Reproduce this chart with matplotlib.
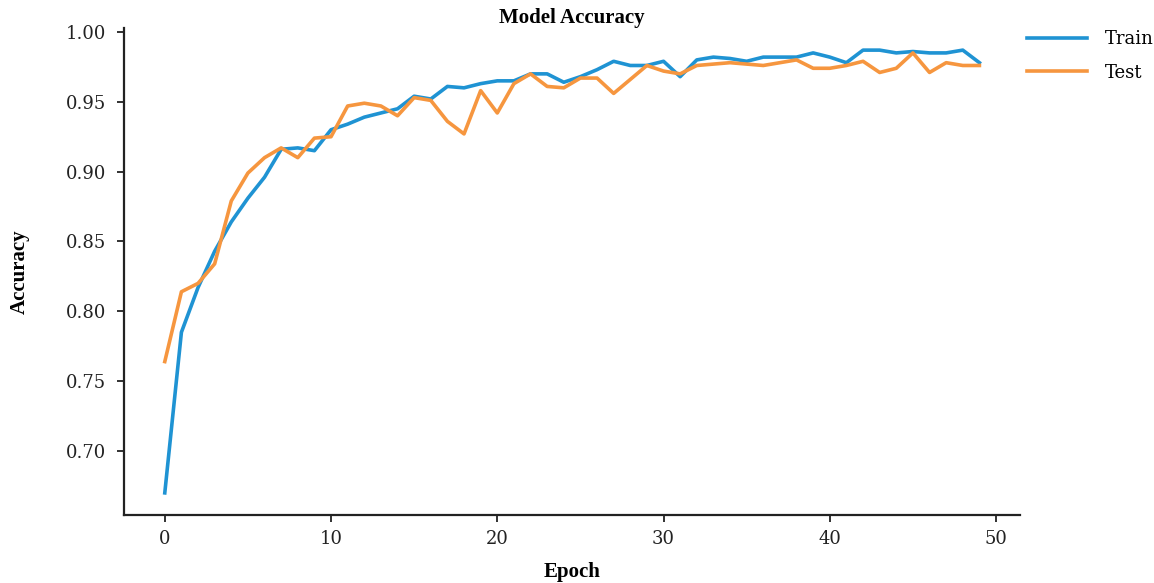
import matplotlib
matplotlib.use("Agg")
import matplotlib.pyplot as plt
import numpy as np

epochs = list(range(50))
train_acc = [0.670, 0.785, 0.817, 0.843, 0.864, 0.881, 0.896, 0.916, 0.917, 0.915,
             0.930, 0.934, 0.939, 0.942, 0.945, 0.954, 0.952, 0.961, 0.960, 0.963,
             0.965, 0.965, 0.970, 0.970, 0.964, 0.968, 0.973, 0.979, 0.976, 0.976,
             0.979, 0.968, 0.980, 0.982, 0.981, 0.979, 0.982, 0.982, 0.982, 0.985,
             0.982, 0.978, 0.987, 0.987, 0.985, 0.986, 0.985, 0.985, 0.987, 0.978]
test_acc = [0.764, 0.814, 0.820, 0.834, 0.879, 0.899, 0.910, 0.917, 0.910, 0.924,
            0.925, 0.947, 0.949, 0.947, 0.940, 0.953, 0.951, 0.936, 0.927, 0.958,
            0.942, 0.963, 0.970, 0.961, 0.960, 0.967, 0.967, 0.956, 0.966, 0.976,
            0.972, 0.970, 0.976, 0.977, 0.978, 0.977, 0.976, 0.978, 0.980, 0.974,
            0.974, 0.976, 0.979, 0.971, 0.974, 0.985, 0.971, 0.978, 0.976, 0.976]

fig = plt.figure(figsize=(11.54, 5.83), dpi=100)
ax = fig.add_axes([0.1075, 0.1166, 0.7765, 0.8354])

ax.plot(epochs, train_acc, color="#1f93d3", lw=2.6, label="Train")
ax.plot(epochs, test_acc, color="#f6963f", lw=2.6, label="Test")

for s in ["top", "right"]:
    ax.spines[s].set_visible(False)
for s in ["left", "bottom"]:
    ax.spines[s].set_linewidth(1.6)
    ax.spines[s].set_color("#222222")

ax.set_yticks([0.70, 0.75, 0.80, 0.85, 0.90, 0.95, 1.00])
ax.set_yticklabels(["0.70", "0.75", "0.80", "0.85", "0.90", "0.95", "1.00"])
ax.set_xticks([0, 10, 20, 30, 40, 50])
ax.tick_params(axis="both", length=5, width=1.3, color="#222222", labelsize=13)
ax.tick_params(axis="x", pad=6)
ax.tick_params(axis="y", pad=8)
for lbl in ax.get_xticklabels() + ax.get_yticklabels():
    lbl.set_fontfamily("DejaVu Serif")
    lbl.set_color("#222222")

ax.set_title("Model Accuracy", fontfamily="Liberation Serif", fontweight="bold", fontsize=15, pad=0)
ax.set_xlabel("Epoch", fontfamily="Liberation Serif", fontweight="bold", fontsize=15, labelpad=10)
ax.set_ylabel("Accuracy", fontfamily="Liberation Serif", fontweight="bold", fontsize=15, labelpad=26)

leg = ax.legend(loc="upper left", bbox_to_anchor=(1.0, 1.01), frameon=False, borderaxespad=0,
                prop={"family": "DejaVu Serif", "size": 13}, handlelength=3.3,
                handletextpad=1.0, labelspacing=0.85)

fig.savefig("out.png", dpi=100)
